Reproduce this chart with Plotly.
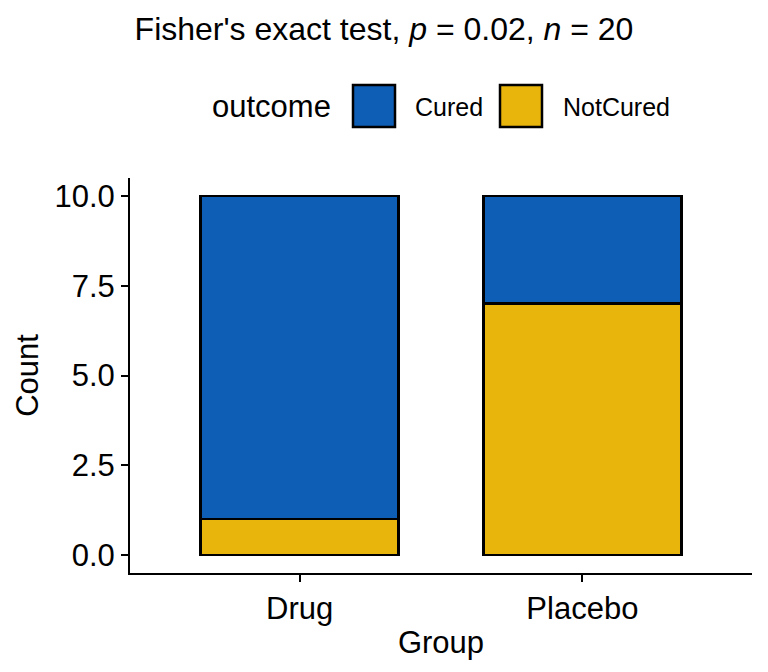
import plotly.graph_objects as go

# ---- data ----
groups = ["Drug", "Placebo"]
outcomes = ["Cured", "NotCured"]
cured_counts = [9, 3]
notcured_counts = [1, 7]
y_ticks = [0.0, 2.5, 5.0, 7.5, 10.0]
colors = {"Cured": "#0E5EB6", "NotCured": "#E8B50D"}
values = {"Cured": cured_counts, "NotCured": notcured_counts}

W, H = 768, 672
L, R, T, B = 130, 16, 178, 99
FONT = "Liberation Sans, Arial, sans-serif"

fig = go.Figure()
# stacking order: NotCured at bottom, Cured on top
for name in ["NotCured", "Cured"]:
    fig.add_trace(go.Bar(
        x=groups, y=values[name], name=name,
        marker=dict(color=colors[name], line=dict(color="black", width=2.5)),
        width=0.7, showlegend=False,
    ))

# helper: pixel -> paper coordinates
pw, ph = W - L - R, H - T - B
def px(x):
    return (x - L) / pw
def py(y):
    return (H - B - y) / ph

# manual legend (large keys like the reference)
shapes = []
annotations = []
key_x = {"Cured": 353, "NotCured": 500}
label_x = {"Cured": 413, "NotCured": 561}
key_size = 42
key_top = 85
for name in outcomes:
    x0 = key_x[name]
    shapes.append(dict(type="rect", xref="paper", yref="paper",
                       x0=px(x0), x1=px(x0 + key_size),
                       y0=py(key_top + key_size), y1=py(key_top),
                       fillcolor=colors[name], line=dict(color="black", width=2.5)))
    annotations.append(dict(text=name, xref="paper", yref="paper",
                            x=px(label_x[name]), y=py(107), xanchor="left", yanchor="middle",
                            showarrow=False, font=dict(size=25, color="black", family=FONT)))
annotations.append(dict(text="outcome", xref="paper", yref="paper",
                        x=px(333), y=py(107), xanchor="right", yanchor="middle",
                        showarrow=False, font=dict(size=31, color="black", family=FONT)))

fig.update_layout(
    width=W, height=H,
    margin=dict(l=L, r=R, t=T, b=B),
    barmode="stack",
    plot_bgcolor="white", paper_bgcolor="white",
    font=dict(family=FONT, color="black", size=31),
    title=dict(text="Fisher's exact test, <i>p</i> = 0.02, <i>n</i> = 20",
               x=0.5, xref="container", xanchor="center",
               y=1 - 29 / H, yref="container", yanchor="middle",
               font=dict(size=32, family=FONT, color="black")),
    shapes=shapes,
    annotations=annotations,
    bargap=0.3,
)
fig.update_xaxes(
    range=[-0.6, 1.6], showline=True, linecolor="black", linewidth=2,
    ticks="outside", ticklen=7, tickwidth=2, tickcolor="black",
    tickfont=dict(size=31, family=FONT, color="black"),
    title=dict(text="Group", font=dict(size=31, family=FONT, color="black"), standoff=6),
    showgrid=False, zeroline=False,
)
fig.update_yaxes(
    range=[-0.5, 10.5], showline=True, linecolor="black", linewidth=2,
    ticks="outside", ticklen=7, tickwidth=2, tickcolor="black",
    tickvals=y_ticks, ticktext=[f"{v:.1f}" for v in y_ticks],
    tickfont=dict(size=31, family=FONT, color="black"),
    title=dict(text="Count", font=dict(size=31, family=FONT, color="black"), standoff=7),
    showgrid=False, zeroline=False,
)

fig.write_html("out.html")
